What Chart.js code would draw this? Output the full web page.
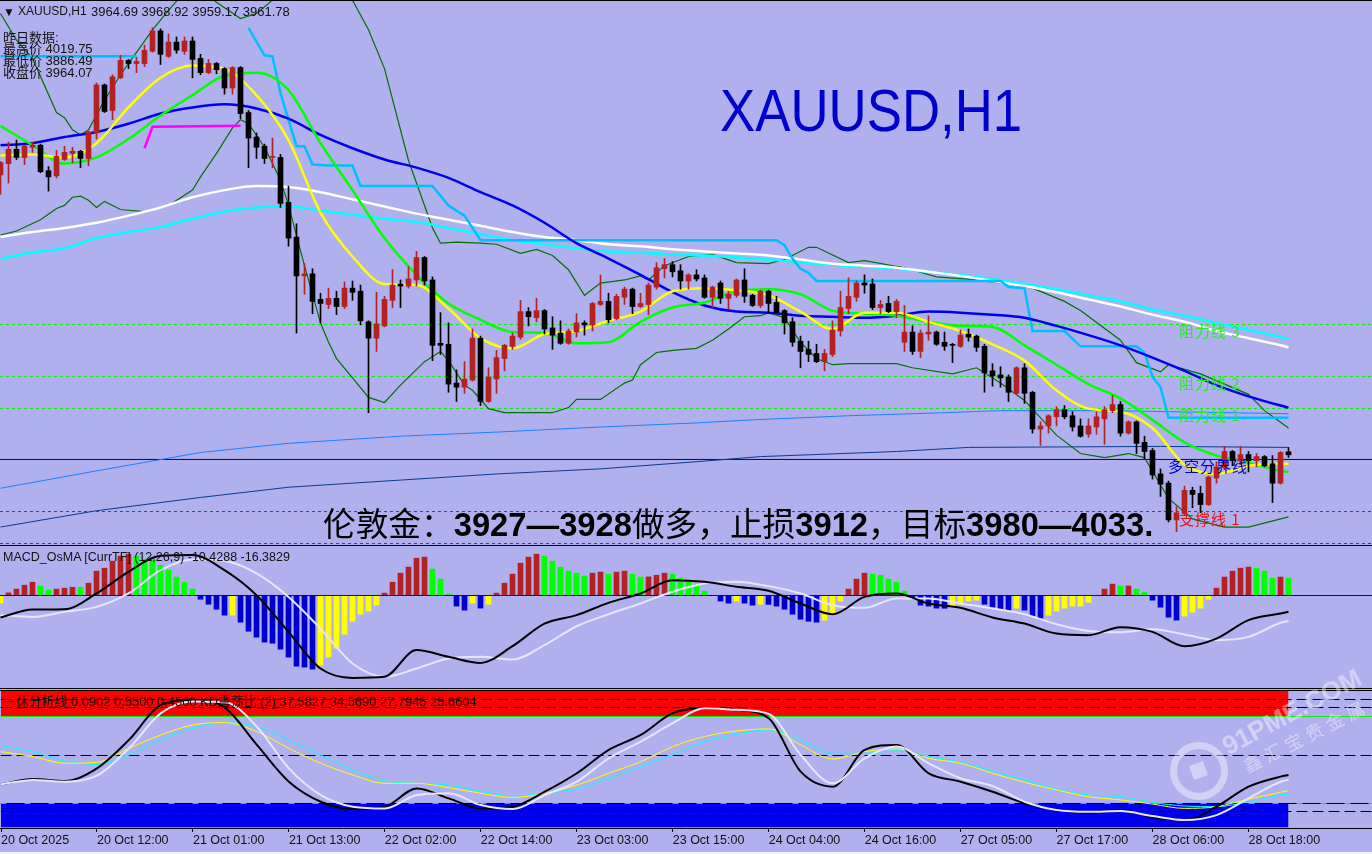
<!DOCTYPE html>
<html lang="zh">
<head>
  <meta charset="UTF-8" />
  <title>XAUUSD,H1</title>
  <script src="https://cdn.jsdelivr.net/npm/chart.js"></script>
<style>
html, body { margin: 0; padding: 0; background: #f4f4f8; }
#page { position: relative; width: 1372px; height: 852px; background: #b0b0ee; overflow: hidden; }
canvas { position: absolute; left: 0; }
.rule { position: absolute; left: 0; width: 1372px; height: 1px; background: #000; }
.txt { position: absolute; white-space: pre; line-height: 1; font-family: "Liberation Sans", "Noto Sans CJK SC", sans-serif; font-size: 13px; color: #111; }
.lvl { font-family: "Noto Sans CJK SC", sans-serif; font-size: 15px; letter-spacing: 1px; }
#mark { position: absolute; left: 0; top: 0; width: 1372px; height: 852px; pointer-events: none; color: rgba(255,255,255,.42); font-family: "Liberation Sans", "Noto Sans CJK SC", sans-serif; }
</style>
</head>
<body>
<div id="page">
  <canvas id="mainChart" width="1372" height="545" style="top:0"></canvas>
  <canvas id="macdChart" width="1372" height="142" style="top:546px"></canvas>
  <canvas id="kdChart" width="1372" height="163" style="top:689px"></canvas>

  <div class="rule" style="top:0"></div>
  <div class="rule" style="top:545px"></div>
  <div class="rule" style="top:688px"></div>
  <div class="rule" style="top:690px"></div>

  <div class="txt" style="left:3px;top:6px;font-size:12px">▼</div>
  <div class="txt" style="left:18px;top:5px;font-size:12px">XAUUSD,H1</div>
  <div class="txt" style="left:91px;top:5px">3964.69 3968.92 3959.17 3961.78</div>
  <div class="txt" style="left:3px;top:31px">昨日数据:</div>
  <div class="txt" style="left:3px;top:42px">最高价 4019.75</div>
  <div class="txt" style="left:3px;top:54px">最低价 3886.49</div>
  <div class="txt" style="left:3px;top:66px">收盘价 3964.07</div>

  <div class="txt" style="left:720px;top:81px;font-size:60px;color:#0000cd;transform:scaleX(.88);transform-origin:left top">XAUUSD,H1</div>

  <div class="txt lvl" style="left:1179px;top:323px;color:#22ee22">阻力线 3</div>
  <div class="txt lvl" style="left:1179px;top:375px;color:#22ee22">阻力线 2</div>
  <div class="txt lvl" style="left:1179px;top:407px;color:#22ee22">阻力线 1</div>
  <div class="txt lvl" style="left:1168px;top:458px;color:#0000cd">多空分界线</div>
  <div class="txt lvl" style="left:1179px;top:511px;color:#ee1111">支撑线 1</div>

  <div class="txt" style="left:323px;top:506px;font-size:32.7px;font-family:'Noto Sans CJK SC',sans-serif;color:#000">伦敦金：<b style="font-family:'Liberation Sans'">3927—3928</b>做多，止损<b style="font-family:'Liberation Sans'">3912</b>，目标<b style="font-family:'Liberation Sans'">3980—4033.</b></div>

  <div class="txt" style="left:3px;top:551px;font-size:12.5px">MACD_OsMA [CurrTF] (12,26,9) -10.4288 -16.3829</div>
  <div class="txt" style="left:3px;top:696px;font-size:12.9px">一休分析线 0.0902 0.5500 0.4500 KD震荡比 (2) 37.5827 34.5690 27.7945 25.6604</div>

  <div id="mark">
    <div style="position:absolute;left:1170px;top:742px;width:44px;height:44px;border:7px solid rgba(255,255,255,.42);border-radius:50%"></div>
    <div style="position:absolute;left:1191px;top:763px;width:15px;height:15px;background:rgba(255,255,255,.42);transform:rotate(-20deg)"></div>
    <div class="txt" style="left:1218px;top:736px;font-size:26px;font-weight:bold;color:inherit;transform:rotate(-28deg);transform-origin:left top">91PME.COM</div>
    <div class="txt" style="left:1241px;top:760px;font-size:18px;letter-spacing:5px;color:inherit;transform:rotate(-27deg);transform-origin:left top">鑫汇宝贵金属</div>
  </div>
</div>

<script>
  // ---- candles, bar 0 is 20 Oct 2025 00:00, H1 ----
  const opens = [4236,4247,4261,4253,4263,4265,4240,4235,4251,4257,
    4259,4252,4277,4324,4299,4331,4348,4345,4345,4357,
    4377,4352,4366,4357,4367,4350,4336,4345,4340,4321,
    4341,4297,4273,4264,4253,4253,4209,4175,4137,4139,
    4114,4109,4115,4107,4125,4122,4092,4076,4088,4113,
    4129,4127,4133,4155,4133,4071,4070,4032,4028,4035,
    4076,4014,4036,4056,4068,4077,4102,4096,4103,4086,
    4081,4071,4082,4091,4089,4109,4112,4095,4116,4124,
    4107,4109,4126,4144,4148,4142,4132,4138,4135,4116,
    4130,4115,4118,4133,4118,4108,4122,4111,4103,4092,
    4073,4065,4061,4053,4060,4083,4105,4116,4130,4129,
    4106,4110,4102,4072,4082,4063,4080,4082,4072,4070,
    4068,4080,4078,4068,4044,4040,4038,4022,4047,4023,
    3987,3990,3999,4006,4000,3990,3982,3989,3997,4005,
    4011,3983,3994,3974,3966,3943,3934,3898,3904,3927,
    3924,3913,3939,3949,3965,3956,3962,3956,3960,3953,
    3934,3964.69];
  const closes = [4248,4261,4253,4264,4265,4239,4234,4254,4258,4259,
    4252,4278,4324,4298,4332,4348,4345,4347,4358,4377,
    4354,4366,4358,4367,4349,4336,4345,4339,4321,4341,
    4296,4272,4263,4252,4254,4208,4174,4137,4139,4112,
    4110,4115,4107,4125,4121,4093,4076,4090,4114,4128,
    4127,4134,4155,4132,4069,4069,4031,4028,4036,4076,
    4014,4038,4057,4069,4078,4102,4097,4103,4085,4079,
    4071,4083,4091,4089,4110,4112,4094,4117,4124,4107,
    4110,4128,4145,4148,4141,4132,4138,4134,4116,4126,
    4115,4119,4133,4117,4108,4122,4110,4101,4091,4072,
    4063,4060,4053,4061,4084,4106,4117,4130,4128,4106,
    4109,4102,4112,4082,4063,4081,4082,4070,4068,4069,
    4079,4077,4067,4042,4039,4037,4023,4047,4022,3987,
    3990,4000,4006,3999,3989,3980,3990,3999,4006,4011,
    3983,3994,3973,3965,3942,3933,3898,3905,3927,3923,
    3913,3940,3950,3965,3956,3962,3956,3960,3951,3934,
    3964,3961.78];
  const highs = [4249,4268,4270,4265,4268,4266,4244,4260,4264,4263,
    4260,4279,4326,4325,4334,4353,4349,4351,4363,4380,
    4379,4374,4371,4371,4371,4354,4349,4346,4341,4342,
    4342,4299,4277,4266,4272,4256,4225,4188,4149,4144,
    4120,4125,4122,4131,4132,4128,4093,4121,4117,4143,
    4133,4146,4161,4156,4136,4101,4091,4045,4053,4085,
    4078,4047,4064,4070,4081,4113,4106,4115,4104,4097,
    4093,4085,4100,4093,4111,4138,4120,4119,4126,4125,
    4120,4130,4150,4154,4151,4148,4139,4143,4138,4127,
    4132,4122,4134,4144,4119,4123,4123,4117,4104,4096,
    4078,4073,4070,4065,4093,4122,4135,4132,4138,4134,
    4113,4117,4114,4108,4088,4084,4098,4083,4082,4071,
    4084,4085,4079,4070,4051,4048,4040,4048,4051,4024,
    3994,4001,4009,4010,4004,3997,3997,4004,4009,4020,
    4014,3995,3995,3980,3968,3948,3936,3911,3931,3930,
    3931,3941,3955,3970,3966,3970,3965,3963,3961,3961,
    3965,3968.92];
  const lows = [4217,4228,4251,4246,4258,4238,4220,4233,4250,4248,
    4243,4245,4271,4297,4290,4330,4340,4336,4342,4356,
    4344,4351,4355,4354,4331,4334,4335,4335,4315,4315,
    4291,4243,4252,4247,4243,4204,4166,4081,4119,4100,
    4091,4105,4099,4105,4113,4089,4003,4063,4087,4106,
    4106,4125,4127,4128,4054,4060,4023,4014,4022,4034,
    4010,4013,4022,4044,4065,4075,4088,4092,4080,4065,
    4070,4070,4077,4079,4083,4108,4091,4094,4109,4100,
    4106,4099,4124,4135,4136,4124,4124,4132,4115,4106,
    4110,4104,4116,4111,4107,4106,4101,4100,4080,4068,
    4047,4053,4052,4044,4058,4078,4100,4112,4120,4104,
    4100,4101,4096,4063,4060,4057,4074,4069,4064,4052,
    4067,4073,4063,4023,4029,4028,4014,4021,4012,3983,
    3971,3983,3990,3997,3985,3979,3979,3982,3972,4003,
    3980,3982,3963,3958,3938,3921,3896,3886.49,3903,3910,
    3905,3912,3934,3947,3951,3952,3945,3950,3950,3915,
    3933,3959.17];

  // moving averages, read every 4th bar (+ the last one)
  const lineBars = [0,4,8,12,16,20,24,28,32,36,40,44,48,52,56,60,64,68,72,76,80,84,88,92,96,100,104,108,112,116,120,124,128,132,136,140,144,148,152,156,160,161];
  const maYellow = [4255,4256,4253,4267,4302,4331,4343,4340,4314,4270,4199,4156,4129,4128,4105,4076,4066,4080,4083,4093,4102,4122,4125,4123,4118,4102,4085,4101,4101,4092,4083,4070,4054,4025,4007,4004,3988,3952,3943,3951,3953,3953];
  const maGreen = [4284,4265,4247,4253,4271,4294,4314,4333,4336,4319,4267,4221,4174,4138,4110,4094,4082,4081,4071,4072,4092,4106,4111,4122,4124,4119,4103,4100,4098,4092,4088,4087,4069,4050,4031,4017,3996,3974,3961,3954,3946,3945];
  const maBlue = [4265,4267,4273,4278,4286,4296,4302,4305,4301,4291,4275,4262,4251,4243,4233,4219,4206,4189,4169,4154,4138,4121,4108,4102,4101,4098,4097,4096,4098,4102,4101,4099,4096,4088,4079,4069,4057,4044,4030,4019,4010,4008];
  const maWhite = [4175,4180,4184,4189,4196,4204,4214,4221,4225,4224,4219,4212,4205,4198,4192,4186,4180,4175,4172,4168,4166,4163,4161,4159,4157,4153,4149,4147,4145,4141,4137,4132,4127,4121,4114,4107,4099,4092,4083,4076,4069,4067];
  const maCyan = [4154,4160,4164,4174,4180,4185,4193,4200,4204,4205,4201,4197,4193,4190,4184,4178,4172,4168,4164,4161,4160,4158,4157,4155,4153,4150,4148,4146,4144,4141,4138,4134,4129,4124,4118,4112,4104,4098,4091,4084,4077,4075];

  // stepped channel line, null = gap
  const skyBars = [0,17,18,31,33,34,35,37,38,39,41,44,45,54,56,58,60,97,98,99,100,101,102,125,126,128,129,133,135,142,143,144,145,146,161];
  const skyVals = [4352,4352,null,4380,4353,4352,4316,4264,4264,4246,4245,4245,4225,4225,4206,4196,4172,4172,4167,4154,4144,4140,4132,4132,4126,4125,4083,4083,4068,4068,4062,4038,4028,3998,3998];

  const bandUpBars = [0,2,4,7,8,9,10,11,13,15,17,19,21,23,25,27,30,32,34,37,42,44,46,48,51,54,55,57,60,62,65,67,69,71,73,75,78,80,81,83,86,89,92,96,98,101,102,106,108,113,117,122,125,129,133,135,140,142,145,146,150,156,158,161];
  const bandUp = [4394,4368,4350,4297,4292,4280,4275,4280,4309,4334,4356,4378,4397,4415,4417,4405,4389,4394,4407,4437,4432,4407,4378,4340,4250,4184,4169,4170,4169,4168,4159,4163,4157,4143,4118,4130,4133,4137,4133,4147,4156,4158,4150,4149,4153,4165,4165,4150,4152,4145,4136,4133,4130,4125,4112,4103,4074,4052,4043,4050,4041,4021,4005,3988];
  const bandLowBars = [0,2,5,7,8,9,10,11,12,13,15,18,21,24,25,27,29,30,31,33,35,36,38,40,41,42,44,46,48,50,53,55,56,58,59,61,63,69,71,72,75,78,79,80,82,84,87,89,91,93,95,96,98,100,102,104,106,112,114,119,122,125,128,132,135,138,141,143,146,149,153,156,161];
  const bandLow = [4177,4181,4192,4203,4206,4214,4215,4211,4204,4210,4202,4200,4206,4221,4234,4257,4282,4290,4286,4263,4231,4206,4147,4091,4072,4056,4037,4018,4013,4030,4053,4063,4054,4030,4025,4007,4003,4003,4008,4016,4016,4032,4035,4050,4062,4064,4066,4074,4085,4097,4098,4101,4096,4072,4056,4050,4051,4051,4047,4041,4047,4032,4015,3981,3963,3959,3963,3959,3919,3899,3891,3891,3901];

  const slowBars = [0,12,25,36,50,62,75,87,94,106,118,125,138,146,161];
  const slowBlue = [3929,3946,3964,3973,3980,3984,3989,3993,3996,4000,4003,4005,4005,4004,4002];
  const slowNavyBars = [0,12,25,36,50,62,75,87,95,112,121,145,161];
  const slowNavy = [3891,3907,3920,3930,3937,3943,3948,3955,3960,3965,3969,3970,3969];

  const magentaBars = [18,19,30];
  const magentaVals = [4262,4283,4284];

  const resistLevels = [4089.4,4038.5,4007.1];
  const pivotLevel = 3957.2;
  const supportLevels = [3906.2,3874.9];

  // ---- MACD panel ----
  const osma = [-4.9,1.7,4.1,6.6,8.5,6,3.4,4.1,4.7,5.3,5.3,7.9,15.6,17.5,22,25.2,26.5,25.2,23.3,22.7,
    19.4,16.2,11.8,8.5,4.1,-2.4,-5.6,-8.8,-12.6,-12.6,-17.1,-22.9,-26.7,-29.9,-30.6,-34.4,-39.5,-45.3,-45.9,-47.2,
    -44.7,-39.5,-33.8,-24.8,-16.5,-12,-10,-6.2,1.5,8.5,14.3,18.2,23.9,24.6,16.9,10.5,0.9,-6.8,-9.4,-4.9,
    -8.1,-5.6,1.5,7.9,13.7,20.7,24.6,26.5,25.2,22,18.2,15.6,14.3,12.4,14.3,15,13.7,15,15.6,13.7,
    11.8,11.9,13,14.3,13.7,11.1,9.8,7.3,2.8,0,-3.6,-4.9,-3.6,-4.9,-6.2,-5.6,-5.7,-6.8,-8.8,-12,
    -15.2,-16.5,-17.1,-15.8,-11.3,-3.6,4.1,10.5,14.3,13.7,13,10.5,8.5,2.8,-1.9,-6.2,-6.8,-8.1,-8.2,-7.5,
    -5.6,-3.6,-3,-5.6,-7.5,-8.8,-10,-8.1,-9.4,-13.2,-14.5,-12.6,-10,-8.1,-6.8,-6.8,-4.3,0,4.1,7.3,
    6,6.1,4.1,2.1,-3,-7.5,-13.9,-15.8,-13.2,-10.7,-8.1,-2.4,4.7,11.8,15.6,17.5,18.2,17.5,15.6,11.1,
    11.8,11.1];
  const macdMain = [-14.1,-9,-8.8,1.3,15.2,25.4,25.9,16.2,0.2,-23.3,-46.8,-52.8,-52.1,-35,-39.3,-43.2,-32.5,-18,-12.6,-4.7,1.3,9.8,8.8,5.6,3,-5.1,-12,-0.9,1.3,-5.1,-7.9,-14.1,-18,-24.4,-25.4,-20.3,-23.3,-32.5,-27.6,-15.8,-11.5,-10.43];
  const macdSignal = [-12.6,-13.7,-10.5,-7.3,1.3,16.2,23.1,22.2,14.1,-0.9,-21.2,-43.6,-52.1,-46.8,-40.4,-39.3,-41,-31.8,-19.7,-12,-5.1,2.4,7.7,8.8,6,1.3,-6.2,-7.9,-1.9,-1.9,-5.1,-8.3,-12,-18.4,-22.7,-23.5,-21.6,-25,-28.6,-26.5,-17.5,-16.38];

  // ---- KD panel ----
  const kdBlack = [31.7,35.1,33.8,41.8,59.7,81.7,84.9,80,56.5,33.4,20.8,16.2,17.7,29.2,22.9,16.6,17.7,27.1,38.7,53.4,62.8,76.5,79.6,78.6,73.3,39.7,30.3,53.4,56.5,38.7,33.4,27.1,19.8,15.6,14.1,15.6,11,9.3,17.7,30.3,36.6,37.58];
  const kdWhite = [31.7,34.5,33.4,37.2,54.4,76.5,83.8,83.4,68,41.8,25,17.7,16.6,25,26.1,18.7,16.2,25,33.4,48.1,58.6,70.2,79.6,78.6,76,50.2,32.4,48.1,55.5,45,35.5,30.7,20.8,15.6,14.5,14.9,11.8,9.3,12.4,22.9,33.4,34.57];
  const kdYellow = [52.3,49.2,45,45.6,54.4,62.8,69.1,70.6,64.9,54.4,45,37.6,32.4,32.4,29.6,26.1,23.5,26.1,31.3,38.7,46,55.5,61.8,65.3,66.6,56.5,47.7,52.3,54,48.1,45,38.7,33,28.2,24,21.9,19.3,16.6,17.7,22.5,26.7,27.79];
  const kdCyan = [56.1,52.3,46.4,44.3,50.2,59.7,67,70.6,68,59.7,50.2,40.8,33.8,32.4,31.3,27.5,24.4,26.1,28.8,35.5,42.9,50.2,58.6,63.2,66,59.7,51.3,51.3,52.9,49.2,45.6,40.1,34.5,28.8,25,24,20.4,18.1,17.7,20.8,25,25.66];
  const kdDashLevels = [85.1,80.07,49.88,14.66];
  const kdLowLevel = 19.69, kdHighLevel = 74.4;

  const tickBars = [0,12,24,36,48,60,72,84,96,108,120,132,144,156];
  const tickLabels = ["20 Oct 2025","20 Oct 12:00","21 Oct 01:00","21 Oct 13:00","22 Oct 02:00","22 Oct 14:00","23 Oct 03:00","23 Oct 15:00","24 Oct 04:00","24 Oct 16:00","27 Oct 05:00","27 Oct 17:00","28 Oct 06:00","28 Oct 18:00"];

  const RED = "#b22222", BLACK = "#000";
  // x axis: bar k sits at 0.5 + 8k px
  const xMin = -0.5 / 8, xMax = (1372 - 0.5) / 8;

  const pts = (bars, vals) => bars.map((b, i) => ({ x: b, y: vals[i] }));
  const flat = (v) => [{ x: xMin, y: v }, { x: xMax, y: v }];

  function line(data, color, width, extra) {
    return Object.assign({ type: "line", data, borderColor: color, borderWidth: width, pointRadius: 0, fill: false, spanGaps: false }, extra || {});
  }
  const smooth = { cubicInterpolationMode: "monotone" };

  const xHidden = { type: "linear", min: xMin, max: xMax, offset: false, display: false };
  const base = {
    responsive: false,
    animation: false,
    events: [],
    layout: { padding: 0 },
    plugins: { legend: { display: false }, tooltip: { enabled: false } }
  };

  const candleColor = (c) => closes[c.dataIndex] >= opens[c.dataIndex] ? RED : BLACK;
  const wicks = opens.map((_, i) => ({ x: i, y: [lows[i], highs[i]] }));
  const bodies = opens.map((_, i) => ({ x: i, y: [opens[i], closes[i]] }));

  // first dataset is drawn on top
  new Chart(document.getElementById("mainChart"), {
    type: "line",
    data: { datasets: [
      { type: "bar", data: bodies, backgroundColor: candleColor, barThickness: 5, grouped: false },
      { type: "bar", data: wicks, backgroundColor: candleColor, barThickness: 1, grouped: false },
      line(pts(magentaBars, magentaVals), "#ff00ff", 2.5),
      line(pts(lineBars, maYellow), "#ffff00", 2.5, smooth),
      line(pts(lineBars, maGreen), "#00ff00", 2.5, smooth),
      line(pts(lineBars, maBlue), "#0000f0", 2.5, smooth),
      line(pts(skyBars, skyVals), "#00bfff", 2.5),
      line(pts(lineBars, maWhite), "#ffffff", 2.5, smooth),
      line(pts(lineBars, maCyan), "#00ffff", 2.5, smooth),
      line(pts(bandUpBars, bandUp), "#007000", 1.2),
      line(pts(bandLowBars, bandLow), "#007000", 1.2),
      line(pts(slowBars, slowBlue), "#1e80ff", 1),
      line(pts(slowNavyBars, slowNavy), "#0a3a90", 1),
      line(flat(pivotLevel), "#00008b", 1),
      ...resistLevels.map(v => line(flat(v), "#11e811", 1, { borderDash: [3, 3] })),
      ...supportLevels.map(v => line(flat(v), "#c01030", 1, { borderDash: [3, 3] }))
    ] },
    options: Object.assign({}, base, { scales: {
      x: xHidden,
      y: { type: "linear", min: 4407.2 - 545 * 0.9794, max: 4407.2, display: false }
    } })
  });

  function osmaColor(c) {
    const v = osma[c.dataIndex], prev = osma[c.dataIndex - 1];
    if (v > 0) return prev !== undefined && v <= prev ? "#00ff00" : RED;
    return prev === undefined || v >= prev ? "#ffff00" : "#0000cd";
  }

  new Chart(document.getElementById("macdChart"), {
    type: "line",
    data: { datasets: [
      line(pts(lineBars, macdMain), "#000", 2, smooth),
      line(pts(lineBars, macdSignal), "#e6e6fa", 2, smooth),
      line(flat(0), "#0000cd", 1),
      { type: "bar", data: osma.map((v, i) => ({ x: i, y: v })), backgroundColor: osmaColor, barThickness: 5, grouped: false }
    ] },
    options: Object.assign({}, base, { scales: {
      x: xHidden,
      y: { type: "linear", min: -59.28, max: 31.72, display: false }
    } })
  });

  new Chart(document.getElementById("kdChart"), {
    type: "line",
    data: { datasets: [
      line(pts(lineBars, kdWhite), "#e6e6fa", 2, smooth),
      line(pts(lineBars, kdBlack), "#000", 2, smooth),
      line(pts(lineBars, kdYellow), "#ffff00", 1, smooth),
      line(pts(lineBars, kdCyan), "#00ffff", 1, smooth),
      ...kdDashLevels.map(v => line(flat(v), "#000", 1, { borderDash: [11, 5] })),
      line(flat(kdLowLevel), "#11e811", 1, { borderDash: [6, 18] }),
      line(flat(kdLowLevel), "#000", 1),
      line(flat(kdHighLevel), "#11e811", 1),
      line(pts([0, 161], [kdHighLevel, kdHighLevel]), "rgba(0,0,0,0)", 0, { fill: { value: 91.1 }, backgroundColor: "#ff0000" }),
      line(pts([0, 161], [kdLowLevel, kdLowLevel]), "rgba(0,0,0,0)", 0, { fill: { value: 4.8 }, backgroundColor: "#0000ee" })
    ] },
    options: Object.assign({}, base, { scales: {
      x: {
        type: "linear", min: xMin, max: xMax, offset: false,
        afterBuildTicks: (s) => { s.ticks = tickBars.map(v => ({ value: v })); },
        afterFit: (s) => { s.height = 24; },
        grid: { drawOnChartArea: false, color: "#000", tickLength: 4 },
        border: { color: "#000" },
        ticks: {
          autoSkip: false, maxRotation: 0, align: "start", padding: 1,
          color: "#111", font: { family: "Liberation Sans", size: 12.5 },
          callback: (v) => tickLabels[tickBars.indexOf(v)]
        }
      },
      y: { type: "linear", min: 4.28, max: 91.7, display: false }
    } })
  });
</script>
</body>
</html>
